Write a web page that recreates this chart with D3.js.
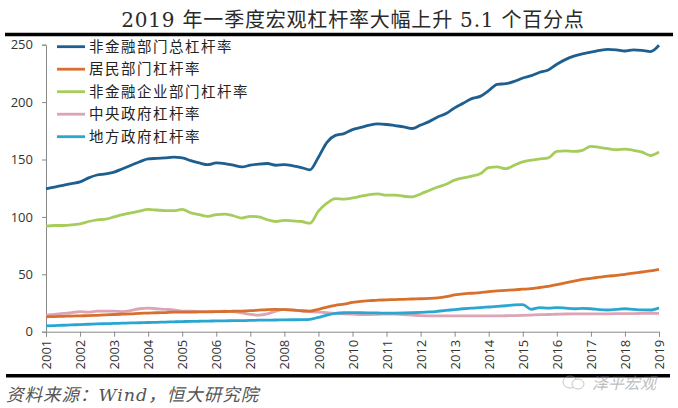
<!DOCTYPE html>
<html><head><meta charset="utf-8">
<script src="https://cdn.jsdelivr.net/npm/d3@7"></script>
<style>body{margin:0;background:#fff;}svg{display:block;}</style>
</head><body>
<svg id="c" width="678" height="408"></svg>
<script>
const title = "2019 年一季度宏观杠杆率大幅上升 5.1 个百分点";
const source = "资料来源：Wind，恒大研究院";
const watermark = "泽平宏观";
const yearLabels = ["2001","2002","2003","2004","2005","2006","2007","2008","2009","2010","2011","2012","2013","2014","2015","2016","2017","2018","2019"];
const yTicks = [0,50,100,150,200,250];
const seriesNames = ["非金融部门总杠杆率","居民部门杠杆率","非金融企业部门杠杆率","中央政府杠杆率","地方政府杠杆率"];
const seriesColors = ["#1f5f8f","#d8702c","#a6cc5c","#dca4b4","#2aa6d2"];
// quarterly, 2001Q1 .. 2019Q1
const totalLev = [124.5,126,127.5,129, 130.5,134,136.5,137.5, 139,142,145,148, 150.5,151,151.5,152,
  151.5,149,147,145.5, 147,146.5,145,143.5, 145,146,146.5,145, 145.5,144.5,143,141,
  152,165,171,172.5, 176,178,180,181, 180.5,179.5,178.5,177, 180,183,187,190,
  195,199,203,205, 210,215.5,216,218, 221,223,226,228, 233,237,240,242,
  243.5,245,246,245.5, 244.5,245.5,245,244, 249.5];
const householdLev = [13,13.2,13.4,13.6, 13.8,14,14.3,14.6, 15,15.3,15.6,16, 16.2,16.5,16.7,17,
  17,17.1,17.2,17.3, 17.5,17.6,17.8,18, 18.3,18.8,19.3,19.5, 19.2,18.8,18.3,18,
  19.5,21.5,23,24, 25.5,26.5,27,27.5, 27.7,28,28.2,28.5, 28.7,29,29.5,30.5,
  32,33,33.5,34, 35,35.5,36,36.5, 37,37.5,38.5,39.5, 41,42.5,44,45.5,
  46.5,47.5,48.5,49, 50,51,52,53, 54.3];
const corpLev = [92,92.5,92.5,93, 94,96,97.5,98, 100,102,103.5,105, 106.5,106,105.5,105.5,
  106.5,103.5,102,100.5, 102,102.5,101,99, 100.5,100,97.5,96, 97,96.5,96,94.5,
  105,112,116,115.5, 116.5,118,119.5,120, 119,119,118,117.5, 120,123,126,128.5,
  132,134,135.5,137.5, 143,143.5,142,145, 148,149.5,150.5,151.5, 157,157.5,157,158,
  161.5,160.5,159.5,158.5, 159,158,156.5,153.5, 156.5];
const centralLev = [14.5,15,16,16.5, 17.5,17,18,18, 18,17.5,18.5,20, 20.5,20,19.5,19,
  18,18,17.5,17.5, 17.5,17.8,17.5,16.5, 15,14.5,15.5,18, 19.5,19,18,17.5,
  17,16.5,16,15.5, 15.3,15,15,15.2, 15.4,15.3,15,14.5, 14,13.8,13.7,13.7,
  13.7,13.8,13.7,13.8, 13.7,13.8,13.9,14, 14.2,14.5,14.8,15, 15.2,15.4,15.5,15.5,
  15.6,15.5,15.6,15.7, 15.8,15.8,15.9,16, 16];
const localLev = [5,5.3,5.6,5.9, 6.2,6.5,6.8,7, 7.2,7.4,7.6,7.8, 8,8.2,8.4,8.6,
  8.8,9,9.1,9.2, 9.4,9.5,9.6,9.7, 9.8,10,10.1,10.2, 10.3,10.4,10.5,10.8,
  12.5,14.5,16,16.5, 16.6,16.5,16.4,16.3, 16.2,16.2,16.3,16.5, 16.8,17.2,17.8,18.5,
  19.3,20,20.6,21, 21.5,22,22.6,23.3, 23.5,19.5,21,20.5, 21,20.6,20,20.3,
  20,19.2,18.9,19.5, 20,19.5,19,18.9, 20.8];

const allSeries = [totalLev, householdLev, corpLev, centralLev, localLev];
// draw order: bottom ones first, total on top
const drawOrder = [3,4,1,2,0];

const svg = d3.select("#c");
const x = d3.scaleLinear().domain([2001, 2019]).range([46, 659]);
const y = d3.scaleLinear().domain([0, 250]).range([331.7, 44.7]);

// title
svg.append("text").attr("x", 353).attr("y", 27).attr("text-anchor","middle")
  .attr("font-family","'DejaVu Serif', 'Noto Sans CJK SC', serif").attr("font-size", 20)
  .attr("letter-spacing", 0.8).attr("fill","#2a2a2a").text(title);
svg.append("line").attr("x1",5).attr("x2",673).attr("y1",34.5).attr("y2",34.5)
  .attr("stroke","#000").attr("stroke-width",3.5);

// axes
const yAxis = d3.axisLeft(y).tickValues(yTicks).tickSize(4).tickPadding(9);
const gy = svg.append("g").attr("transform","translate(46,0)").call(yAxis);
gy.select(".domain").attr("stroke","#8a8a8a");
gy.selectAll(".tick line").attr("stroke","#8a8a8a");
gy.selectAll("text").attr("font-family","'Open Sans', 'Liberation Sans', sans-serif")
  .attr("font-size",13).attr("fill","#333");

const xAxis = d3.axisBottom(x).tickValues(d3.range(2001, 2020)).tickSize(5)
  .tickFormat((d,i)=>yearLabels[i]);
const gx = svg.append("g").attr("transform","translate(0,331.7)").call(xAxis);
gx.select(".domain").attr("stroke","#8a8a8a");
gx.selectAll(".tick line").attr("stroke","#8a8a8a");
gx.selectAll("text").attr("font-family","'Open Sans', 'Liberation Sans', sans-serif")
  .attr("font-size",13).attr("fill","#333")
  .attr("transform","rotate(-90)").attr("text-anchor","end")
  .attr("x",-8).attr("y",0).attr("dy","0.35em");

// lines
const line = d3.line().x((d,i)=>x(2001 + i*0.25)).y(d=>y(d)).curve(d3.curveMonotoneX);
drawOrder.forEach(k=>{
  svg.append("path").datum(allSeries[k]).attr("d", line)
    .attr("fill","none").attr("stroke", seriesColors[k]).attr("stroke-width",2.8)
    .attr("stroke-linejoin","round");
});

// legend
const lg = svg.append("g");
seriesNames.forEach((n,i)=>{
  const yy = 46.7 + i*22.5;
  lg.append("line").attr("x1",57).attr("x2",85).attr("y1",yy).attr("y2",yy)
    .attr("stroke",seriesColors[i]).attr("stroke-width",2.8);
  lg.append("text").attr("x",89).attr("y",yy).attr("dy","0.36em")
    .attr("font-family","'Noto Sans CJK SC', sans-serif").attr("font-size",14.5)
    .attr("letter-spacing",1.5).attr("fill","#222").text(n);
});

// footer
svg.append("line").attr("x1",6).attr("x2",670).attr("y1",375.7).attr("y2",375.7)
  .attr("stroke","#000").attr("stroke-width",3.5);
svg.append("text").attr("x",6).attr("y",401)
  .attr("font-family","'DejaVu Serif', 'Noto Sans CJK SC', serif").attr("font-size",17.5)
  .attr("font-style","italic").attr("letter-spacing",1).attr("fill","#555").text(source);
// watermark
const wm = svg.append("g").attr("opacity",0.55);
wm.append("ellipse").attr("cx",570).attr("cy",382).attr("rx",7).attr("ry",6)
  .attr("fill","none").attr("stroke","#999").attr("stroke-width",1);
wm.append("ellipse").attr("cx",578).attr("cy",384).attr("rx",6).attr("ry",5)
  .attr("fill","#fff").attr("stroke","#999").attr("stroke-width",1);
wm.append("text").attr("x",592).attr("y",389)
  .attr("font-family","'Noto Sans CJK SC', sans-serif").attr("font-size",16)
  .attr("font-style","italic").attr("fill","#888").text(watermark);
</script>
</body></html>
